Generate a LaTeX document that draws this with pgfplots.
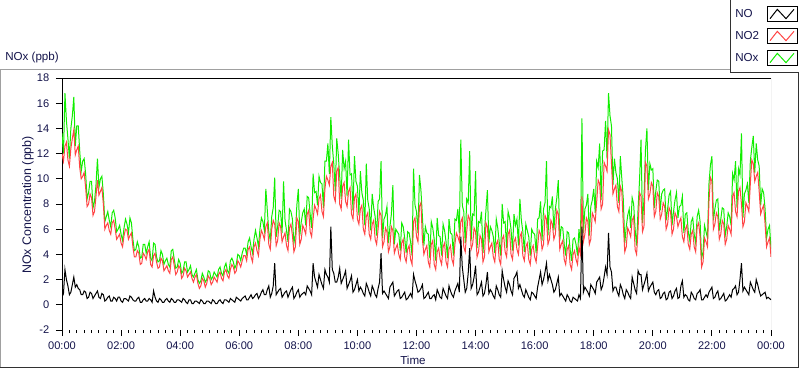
\documentclass[border=0pt]{standalone}
\usepackage{pgfplots}
\usepackage{pgfplotstable}
\pgfplotsset{compat=1.18}
\usepackage{fontspec}
\setmainfont{Liberation Sans}
\definecolor{txt}{RGB}{20,20,75}
\definecolor{noxg}{RGB}{17,238,0}
\definecolor{no2r}{RGB}{255,68,68}
\definecolor{frameg}{RGB}{160,160,160}
\definecolor{framed}{RGB}{50,50,50}

\pgfplotstableread{
t no no2 nox
0.0 1.2 12.0 13.6
0.05 0.9 11.4 12.0
0.1 2.8 12.6 16.8
0.15 2.0 12.9 14.6
0.2 1.5 11.5 13.2
0.25 0.8 11.0 11.6
0.3 1.0 12.4 14.0
0.35 1.6 13.2 15.0
0.4 2.2 13.9 16.5
0.45 1.4 11.9 12.6
0.5 1.6 12.3 14.2
0.55 1.3 12.6 14.2
0.6 1.2 10.9 12.2
0.65 0.8 10.0 10.6
0.7 0.8 10.2 11.4
0.75 1.1 10.5 11.6
0.8 1.0 9.3 10.4
0.85 0.5 7.8 8.4
0.9 0.6 8.0 8.9
0.95 1.0 8.8 9.8
1.0 0.9 8.5 9.8
1.05 0.5 7.1 7.7
1.1 0.7 7.4 8.2
1.15 0.9 8.6 9.5
1.2 1.1 9.9 11.6
1.25 0.6 8.7 9.3
1.3 0.5 9.0 10.0
1.35 0.9 9.3 10.2
1.4 0.8 8.0 8.8
1.45 0.3 6.0 6.6
1.5 0.4 6.3 7.0
1.55 0.6 6.5 7.4
1.6 0.7 5.9 6.7
1.65 0.3 5.6 6.2
1.7 0.3 6.5 7.3
1.75 0.6 6.7 7.5
1.8 0.5 6.0 6.9
1.85 0.3 5.2 5.8
1.9 0.6 5.4 6.0
1.95 0.6 5.6 6.3
2.0 0.3 4.9 5.6
2.05 0.2 4.6 5.1
2.1 0.5 5.5 6.1
2.15 0.5 6.0 6.8
2.2 0.4 5.9 6.4
2.25 0.3 5.2 5.7
2.3 0.7 5.5 6.9
2.35 0.6 5.7 6.5
2.4 0.4 4.6 5.2
2.45 0.3 3.8 4.3
2.5 0.3 3.8 4.4
2.55 0.5 4.3 5.0
2.6 0.6 4.1 4.6
2.65 0.2 3.2 3.7
2.7 0.2 3.3 3.8
2.75 0.4 4.1 4.8
2.8 0.5 3.9 4.8
2.85 0.3 3.6 4.1
2.9 0.3 4.2 4.6
2.95 0.5 4.4 5.0
3.0 0.4 3.2 3.7
3.05 0.2 3.0 3.5
3.1 1.1 3.9 4.9
3.15 0.6 4.1 4.8
3.2 0.3 3.4 3.8
3.25 0.2 2.9 3.4
3.3 0.5 3.0 3.5
3.35 0.4 3.7 4.3
3.4 0.2 3.5 4.0
3.45 0.2 2.7 3.2
3.5 0.4 2.9 3.5
3.55 0.5 3.1 3.7
3.6 0.3 2.7 3.2
3.65 0.2 2.5 3.0
3.7 0.5 3.6 4.3
3.75 0.4 3.8 4.4
3.8 0.2 3.1 3.6
3.85 0.2 2.4 2.9
3.9 0.4 2.6 3.0
3.95 0.4 3.1 3.6
4.0 0.3 2.9 3.3
4.05 0.2 2.1 2.5
4.1 0.5 2.3 2.7
4.15 0.4 2.9 3.4
4.2 0.2 2.7 3.4
4.25 0.1 2.2 2.6
4.3 0.4 2.4 2.8
4.35 0.4 2.6 3.1
4.4 0.1 2.1 2.4
4.45 0.1 1.8 2.2
4.5 0.3 2.2 2.5
4.55 0.3 2.4 2.8
4.6 0.2 1.7 2.0
4.65 0.1 1.3 1.7
4.7 0.4 1.5 1.9
4.75 0.3 2.1 2.5
4.8 0.1 1.9 2.2
4.85 0.1 1.4 1.8
4.9 0.3 1.7 2.0
4.95 0.3 2.3 2.7
5.0 0.2 2.1 2.6
5.05 0.1 1.6 2.0
5.1 0.4 1.8 2.2
5.15 0.3 2.2 2.6
5.2 0.1 2.0 2.4
5.25 0.1 1.8 2.2
5.3 0.3 2.4 2.8
5.35 0.4 2.6 3.0
5.4 0.2 2.1 2.5
5.45 0.1 1.9 2.3
5.5 0.4 2.6 3.0
5.55 0.4 2.8 3.3
5.6 0.3 2.3 2.7
5.65 0.2 2.1 2.5
5.7 0.5 2.8 3.5
5.75 0.4 3.2 3.7
5.8 0.3 3.0 3.4
5.85 0.2 2.5 2.9
5.9 0.6 2.7 3.2
5.95 0.5 3.5 4.0
6.0 0.4 3.3 3.9
6.05 0.3 3.0 3.5
6.1 0.5 3.5 4.1
6.15 0.6 3.9 4.5
6.2 0.7 3.9 4.5
6.25 0.4 3.5 4.0
6.3 0.4 4.4 5.0
6.35 0.6 4.6 5.3
6.4 0.8 3.8 4.6
6.45 0.5 3.4 4.1
6.5 0.6 4.6 5.2
6.55 0.8 4.9 5.9
6.6 0.9 4.3 5.3
6.65 0.5 3.9 4.6
6.7 0.7 5.2 6.0
6.75 1.0 5.9 6.9
6.8 1.2 5.6 6.6
6.85 0.8 5.2 5.9
6.9 0.8 6.2 9.2
6.95 1.2 6.5 7.5
7.0 1.5 4.8 5.8
7.05 0.6 4.4 5.1
7.1 0.9 6.0 7.0
7.15 1.5 6.7 7.7
7.2 3.3 6.4 10.1
7.25 0.8 4.7 5.4
7.3 1.0 5.1 6.2
7.35 1.2 6.5 7.5
7.4 1.3 6.2 7.4
7.45 0.6 5.0 5.7
7.5 0.8 5.4 9.8
7.55 1.0 5.7 6.7
7.6 1.1 4.7 5.9
7.65 0.6 4.3 5.0
7.7 0.9 6.1 7.6
7.75 1.2 6.4 7.4
7.8 1.4 5.5 6.8
7.85 0.5 4.2 4.9
7.9 0.7 4.6 5.6
7.95 1.0 6.9 7.9
8.0 1.2 6.6 9.2
8.05 0.6 4.8 5.5
8.1 0.8 5.2 6.6
8.15 0.9 6.3 7.3
8.2 1.0 6.0 7.6
8.25 0.8 5.6 6.3
8.3 1.5 7.2 8.6
8.35 1.3 7.5 8.5
8.4 1.1 5.8 7.2
8.45 0.8 5.4 6.1
8.5 3.3 6.8 10.4
8.55 2.2 7.9 8.9
8.6 1.8 7.6 9.0
8.65 1.4 7.2 7.9
8.7 2.4 8.4 10.2
8.75 2.0 8.7 9.7
8.8 1.6 7.4 9.6
8.85 1.3 7.0 7.7
8.9 2.8 9.2 11.4
8.95 2.4 10.2 11.4
9.0 2.2 9.9 12.8
9.05 1.8 9.5 10.4
9.1 6.2 11.0 14.9
9.15 2.8 11.3 12.6
9.2 2.5 8.6 11.2
9.25 1.8 8.2 9.0
9.3 1.8 10.6 13.2
9.35 2.2 10.9 12.0
9.4 2.9 8.0 10.2
9.45 1.7 7.6 8.4
9.5 2.0 9.4 12.3
9.55 2.3 9.7 10.8
9.6 2.7 8.2 11.4
9.65 1.3 7.8 8.6
9.7 1.6 9.0 13.1
9.75 1.9 9.3 10.3
9.8 2.3 7.2 10.4
9.85 1.0 6.8 7.5
9.9 1.2 8.5 11.8
9.95 1.6 8.8 9.8
10.0 2.0 6.8 9.4
10.05 1.1 6.4 7.1
10.1 1.4 7.6 10.6
10.15 1.2 7.9 8.9
10.2 0.9 6.0 8.3
10.25 0.7 5.6 6.3
10.3 1.7 7.0 11.2
10.35 1.4 7.3 8.3
10.4 1.0 5.6 7.6
10.45 0.7 5.2 5.9
10.5 1.5 6.4 8.8
10.55 1.2 6.7 7.7
10.6 0.8 5.2 7.0
10.65 0.6 4.8 5.5
10.7 1.3 6.0 8.2
10.75 1.8 7.4 8.4
10.8 4.1 7.1 11.4
10.85 0.9 4.6 5.3
10.9 1.1 5.0 6.8
10.95 0.9 6.1 7.1
11.0 0.7 5.8 7.8
11.05 0.5 4.2 4.9
11.1 1.4 4.6 6.2
11.15 1.6 6.2 7.2
11.2 1.8 5.9 9.5
11.25 0.7 4.1 4.8
11.3 0.9 4.5 6.0
11.35 1.1 4.8 5.8
11.4 1.2 4.0 5.6
11.45 0.5 3.6 4.3
11.5 0.6 4.9 6.5
11.55 0.8 5.2 6.2
11.6 1.0 3.8 5.3
11.65 0.4 3.4 4.1
11.7 0.5 4.4 5.8
11.75 0.7 4.7 5.7
11.8 0.9 3.6 5.0
11.85 0.6 3.2 3.9
11.9 2.4 6.6 10.8
11.95 1.9 6.9 7.9
12.0 1.5 5.4 7.4
12.05 1.0 5.0 5.7
12.1 1.1 7.8 10.3
12.15 1.3 8.1 9.1
12.2 1.6 5.2 7.0
12.25 0.5 4.0 4.7
12.3 0.6 4.4 6.2
12.35 0.8 4.7 5.7
12.4 1.0 3.4 5.6
12.45 0.5 3.0 3.7
12.5 0.5 4.8 6.6
12.55 0.7 5.1 6.1
12.6 0.8 3.2 5.2
12.65 0.4 2.8 3.5
12.7 1.2 4.2 6.9
12.75 0.9 4.5 5.5
12.8 0.6 3.6 5.4
12.85 0.5 3.2 3.9
12.9 1.3 4.6 6.4
12.95 1.0 4.9 5.9
13.0 0.7 3.4 5.0
13.05 0.5 3.0 3.7
13.1 1.5 4.4 6.8
13.15 1.1 4.7 5.7
13.2 0.8 3.6 5.6
13.25 0.6 3.2 3.9
13.3 1.1 4.8 6.8
13.35 1.4 5.7 6.7
13.4 1.7 5.4 7.6
13.45 1.0 5.0 5.7
13.5 5.4 6.6 13.1
13.55 3.0 6.9 7.9
13.6 2.0 4.6 7.4
13.65 1.0 4.2 4.9
13.7 1.3 5.8 8.4
13.75 2.5 7.1 8.1
13.8 4.5 6.8 12.2
13.85 1.3 4.4 5.1
13.9 1.6 4.8 7.2
13.95 2.2 6.1 7.1
14.0 3.1 5.8 10.6
14.05 0.8 3.8 4.5
14.1 1.0 4.2 6.6
14.15 1.4 5.5 6.5
14.2 1.8 5.2 7.4
14.25 0.7 3.4 4.1
14.3 0.9 3.8 5.8
14.35 1.6 6.5 7.5
14.4 2.6 6.2 9.1
14.45 0.9 4.2 4.9
14.5 1.2 4.6 6.2
14.55 1.0 4.9 5.9
14.6 0.7 3.8 5.4
14.65 0.5 3.4 4.1
14.7 1.5 4.8 6.8
14.75 1.2 5.1 6.1
14.8 0.8 3.6 5.0
14.85 0.6 3.2 3.9
14.9 2.7 5.2 8.0
14.95 2.0 5.5 6.5
15.0 1.4 4.2 6.6
15.05 1.0 3.8 4.5
15.1 1.9 5.6 7.4
15.15 1.6 5.9 6.9
15.2 1.1 4.0 6.0
15.25 0.8 3.6 4.3
15.3 2.1 5.0 7.2
15.35 2.3 5.3 6.3
15.4 2.6 4.4 6.8
15.45 1.3 4.0 4.7
15.5 1.6 5.4 8.4
15.55 1.2 5.7 6.7
15.6 0.8 3.9 5.8
15.65 0.6 3.5 4.2
15.7 1.2 4.6 6.4
15.75 0.9 4.9 5.9
15.8 0.6 3.6 5.4
15.85 0.4 3.2 3.9
15.9 1.0 4.4 6.0
15.95 0.9 4.7 5.7
16.0 0.7 3.8 5.6
16.05 0.5 3.4 4.1
16.1 1.4 4.6 6.8
16.15 2.0 5.9 6.9
16.2 2.6 5.6 8.2
16.25 1.6 4.4 5.1
16.3 2.0 4.8 7.6
16.35 2.6 7.1 8.1
16.4 3.3 6.8 11.4
16.45 1.9 4.8 5.5
16.5 2.4 5.2 7.8
16.55 2.0 6.7 7.7
16.6 1.6 6.4 8.6
16.65 1.0 5.2 5.9
16.7 1.2 5.6 7.6
16.75 1.7 7.5 8.5
16.8 2.2 7.2 9.9
16.85 0.7 4.4 5.1
16.9 0.9 4.8 6.2
16.95 0.7 5.1 6.1
17.0 0.5 3.6 4.8
17.05 0.3 3.2 3.9
17.1 0.8 4.4 5.8
17.15 0.6 4.7 5.7
17.2 0.3 3.2 4.4
17.25 0.2 2.8 3.5
17.3 0.6 4.0 5.2
17.35 0.5 4.3 5.3
17.4 0.4 3.6 4.8
17.45 0.3 3.2 3.9
17.5 0.8 4.6 6.0
17.55 0.5 4.0 4.7
17.6 6.2 8.6 14.8
17.65 1.0 5.0 5.7
17.7 1.4 5.6 7.6
17.75 1.2 6.9 7.9
17.8 1.0 6.6 8.8
17.85 0.7 4.8 5.5
17.9 1.6 5.2 7.8
17.95 1.4 7.3 8.3
18.0 1.2 7.0 9.2
18.05 0.9 6.6 7.3
18.1 1.8 8.2 11.4
18.15 2.0 9.9 10.9
18.2 2.2 9.6 12.8
18.25 1.2 7.6 8.3
18.3 1.5 8.0 12.2
18.35 2.2 11.3 12.3
18.4 3.0 11.0 14.6
18.45 2.4 10.6 11.6
18.5 5.7 13.9 16.8
18.55 3.0 13.5 15.0
18.6 2.6 11.2 14.2
18.65 1.1 8.8 9.5
18.7 1.4 9.2 11.6
18.75 1.4 9.5 10.5
18.8 1.0 7.8 10.0
18.85 0.7 7.4 8.1
18.9 1.6 9.4 11.8
18.95 1.3 9.0 10.0
19.0 0.8 6.4 8.4
19.05 0.5 4.2 4.9
19.1 1.2 4.6 6.2
19.15 1.0 6.1 7.1
19.2 0.7 5.8 7.6
19.25 0.5 5.4 6.1
19.3 2.2 6.7 8.5
19.35 1.7 7.0 8.0
19.4 1.2 4.4 6.0
19.45 0.9 4.0 4.7
19.5 2.7 6.0 7.6
19.55 2.4 8.9 9.9
19.6 2.4 8.6 13.1
19.65 1.2 5.8 6.5
19.7 1.6 6.2 8.4
19.75 2.0 11.3 12.3
19.8 2.5 11.0 14.0
19.85 1.1 8.4 9.1
19.9 1.4 8.8 11.2
19.95 1.6 9.7 10.7
20.0 1.8 9.4 10.8
20.05 1.0 7.0 7.7
20.1 0.8 7.4 9.0
20.15 1.1 8.9 9.9
20.2 1.2 8.6 9.8
20.25 0.5 6.8 7.5
20.3 0.6 7.2 8.8
20.35 0.9 8.1 9.1
20.4 1.0 7.8 9.2
20.45 0.4 6.0 6.7
20.5 0.5 6.4 7.6
20.55 1.0 7.7 8.7
20.6 1.1 7.4 9.0
20.65 0.5 5.6 6.3
20.7 0.7 6.0 7.4
20.75 1.1 7.3 8.3
20.8 1.3 7.0 8.9
20.85 0.5 6.2 6.9
20.9 0.6 6.6 7.8
20.95 1.5 6.9 7.9
21.0 1.9 5.4 8.6
21.05 0.6 5.0 5.7
21.1 0.8 6.0 7.2
21.15 0.7 6.3 7.3
21.2 0.4 4.8 5.8
21.25 0.3 4.4 5.1
21.3 1.0 5.6 6.6
21.35 0.8 5.9 6.9
21.4 0.5 4.6 5.6
21.45 0.4 4.2 4.9
21.5 0.9 6.2 7.0
21.55 1.0 6.5 7.5
21.6 1.2 5.4 6.6
21.65 0.4 3.0 3.7
21.7 0.4 3.4 4.2
21.75 0.6 5.3 6.3
21.8 0.8 5.0 5.8
21.85 0.6 4.6 5.3
21.9 1.0 8.2 9.6
21.95 1.2 10.1 11.1
22.0 1.4 9.8 11.8
22.05 0.5 6.0 6.7
22.1 0.6 6.4 7.6
22.15 0.9 7.3 8.3
22.2 1.1 7.0 8.4
22.25 0.4 5.2 5.9
22.3 0.5 5.6 6.8
22.35 0.7 6.7 7.7
22.4 0.9 6.4 7.6
22.45 0.3 4.8 5.5
22.5 0.4 5.2 6.2
22.55 0.6 6.3 7.3
22.6 0.8 6.0 7.0
22.65 0.6 5.6 6.3
22.7 1.2 8.6 10.4
22.75 1.3 8.9 9.9
22.8 1.5 7.4 11.4
22.85 0.8 7.0 7.7
22.9 1.0 9.0 10.8
22.95 2.0 9.3 10.3
23.0 3.3 8.0 13.6
23.05 1.1 6.2 6.9
23.1 1.4 6.6 8.8
23.15 1.2 8.1 9.1
23.2 1.0 7.8 9.6
23.25 0.8 7.4 8.1
23.3 1.8 9.6 11.4
23.35 1.5 11.5 12.5
23.4 1.2 11.2 13.4
23.45 1.0 9.8 10.5
23.5 2.0 10.2 12.8
23.55 1.6 10.5 11.5
23.6 1.1 9.0 11.0
23.65 0.7 7.2 7.9
23.7 0.8 7.6 9.2
23.75 0.9 7.9 8.9
23.8 1.0 6.4 7.6
23.85 0.5 4.6 5.3
23.9 0.6 5.0 6.0
23.95 0.5 5.3 6.3
24.0 0.4 3.8 4.4
}\datatable

\begin{document}
\begin{tikzpicture}[font=\fontsize{8.7pt}{10.4pt}\selectfont]
\path[use as bounding box] (0pt,0pt) rectangle (600pt,276.75pt);
% outer frame
\draw[frameg, line width=0.75pt] (0.375pt,1.125pt) -- (0.375pt,225pt) -- (547.5pt,225pt);
\draw[framed, line width=0.75pt] (0pt,1.125pt) -- (598.9pt,1.125pt) -- (598.9pt,222.75pt);
% legend frame
\draw[framed, line width=0.75pt] (547.5pt,276.75pt) -- (547.5pt,222.75pt) -- (599.6pt,222.75pt);
\node[anchor=west, text=txt, inner sep=0pt] at (3.75pt,233.25pt) {NOx (ppb)};

\begin{axis}[
  at={(46.5pt,29.25pt)}, anchor=south west,
  scale only axis, width=531.75pt, height=189pt,
  xmin=0, xmax=24, ymin=-2, ymax=18,
  axis lines*=left,
  x axis line style={draw=none},
  y axis line style={black, line width=0.75pt},
  tick align=outside,
  major tick length=4.5pt, minor tick length=2.25pt,
  every tick/.style={black, line width=0.75pt},
  xtick={0,2,...,24},
  xticklabels={00:00,02:00,04:00,06:00,08:00,10:00,12:00,14:00,16:00,18:00,20:00,22:00,00:00},
  minor x tick num=7,
  ytick={-2,0,...,18},
  yticklabels={-2,0,2,4,6,8,10,12,14,16,18},
  tick label style={text=txt, font=\fontsize{8.3pt}{10pt}\selectfont},
  xticklabel style={yshift=-1pt},
  yticklabel style={xshift=-1.5pt},
  xlabel={Time}, ylabel={NOx Concentration (ppb)},
  every axis x label/.style={at={(axis description cs:0.495,-0.119)}, anchor=center, text=txt},
  every axis y label/.style={at={(axis description cs:-0.048,0.496)}, anchor=center, rotate=90, text=txt, font=\fontsize{9.3pt}{11pt}\selectfont},
  clip=true,
]
\addplot[noxg, line width=0.75pt] table[x=t, y=nox] {\datatable};
\addplot[no2r, line width=0.75pt] table[x=t, y=no2] {\datatable};
\addplot[black, line width=0.75pt] table[x=t, y=no] {\datatable};
\draw[black, line width=0.75pt] (rel axis cs:0,1) -- (rel axis cs:1,1);
\draw[frameg, line width=0.75pt] (rel axis cs:1,1) -- (rel axis cs:1,0);
\end{axis}

% legend
\foreach \yy/\lab/\col in {266.25/NO/black, 249.75/NO2/no2r, 233.25/NOx/noxg}{
  \node[anchor=west, text=txt, inner sep=0pt] at (551.25pt,\yy pt) {\lab};
  \draw[black, line width=0.75pt, fill=white] (575.25pt,\yy pt-5.6pt) rectangle (597.75pt,\yy pt+5.6pt);
  \draw[\col, line width=0.75pt] (577.5pt,\yy pt-3.5pt) -- (583pt,\yy pt+3.5pt) -- (589.5pt,\yy pt-3.5pt) -- (595.5pt,\yy pt+3.5pt);
}
\end{tikzpicture}
\end{document}
